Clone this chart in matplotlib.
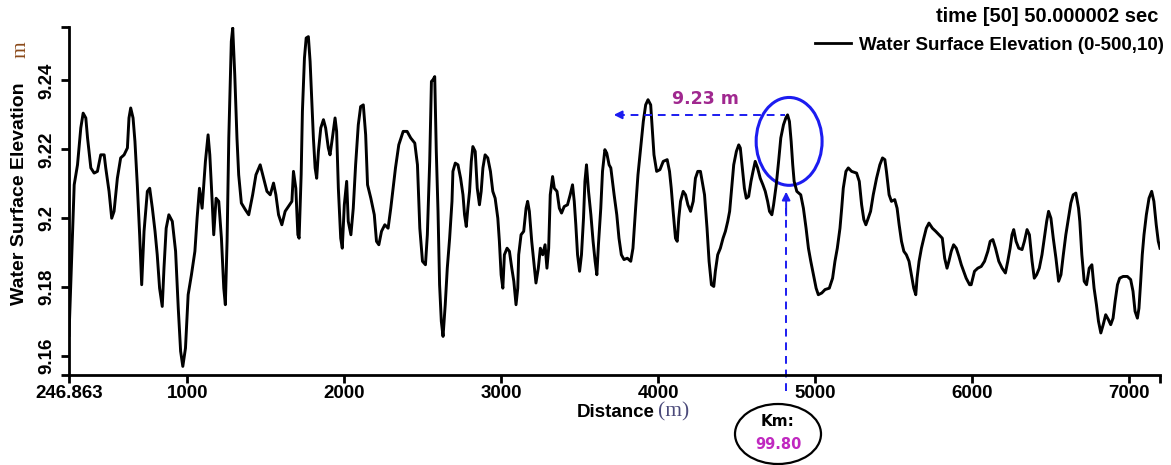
import matplotlib
matplotlib.use("Agg")
import matplotlib.pyplot as plt
from matplotlib.patches import Ellipse
from matplotlib.lines import Line2D

# distance along the reach (m) and water surface elevation (m)
distancia = [
    246.863, 280, 301, 322, 337, 354, 365, 386, 407, 428, 449, 471, 481, 502, 519, 534,
    555, 576, 598, 619, 629, 640, 655, 667, 682, 697, 710, 725, 746, 761, 778, 795,
    809, 824, 841, 852, 866, 883, 905, 926, 943, 958, 972, 989, 1006, 1027, 1049, 1063,
    1078, 1095, 1116, 1133, 1144, 1159, 1169, 1184, 1201, 1218, 1233, 1243, 1254, 1265,
    1281, 1290, 1303, 1317, 1328, 1345, 1370, 1392,
    1417, 1438, 1465, 1487, 1508, 1529, 1550, 1565, 1582, 1603, 1624, 1645, 1667, 1677,
    1692, 1705, 1713, 1726, 1734, 1747, 1758, 1772, 1783, 1794, 1804, 1815, 1825, 1836,
    1851, 1868, 1882, 1899, 1910, 1925, 1942, 1952, 1963, 1978, 1988, 2001, 2016, 2026,
    2043, 2058, 2073, 2090, 2105, 2122, 2137, 2149, 2170, 2192, 2206, 2221, 2238, 2259,
    2280, 2297, 2312, 2327, 2348, 2376, 2401, 2424, 2450, 2467, 2482, 2499, 2518, 2530,
    2545, 2556,
    2566, 2577, 2581, 2587, 2598, 2608, 2619, 2630, 2644, 2657, 2672, 2687, 2693, 2708,
    2725, 2742, 2757, 2767, 2778, 2788, 2799, 2810, 2820, 2835, 2848, 2862, 2873, 2884,
    2898, 2915, 2932, 2947, 2962, 2979, 2989, 3000, 3011, 3021, 3038, 3053, 3068, 3081,
    3095, 3106, 3112, 3127, 3144, 3159, 3169, 3180, 3195, 3208, 3222, 3237, 3250, 3265,
    3280, 3292, 3303, 3313, 3328, 3339, 3356, 3371, 3385, 3402, 3423, 3440, 3455, 3466,
    3476, 3487, 3500, 3512, 3525, 3534, 3544, 3557, 3572, 3586, 3599, 3610, 3620, 3635,
    3646, 3661, 3673, 3688, 3699,
    3720, 3737, 3751, 3766, 3783, 3804, 3826, 3840, 3857, 3872, 3889, 3906, 3921, 3936,
    3953, 3963, 3974, 3991, 4012, 4033, 4058, 4073, 4084, 4096, 4111, 4122, 4132, 4143,
    4160, 4175, 4190, 4207, 4224, 4238, 4253, 4270, 4281, 4296, 4312, 4325, 4340, 4355,
    4365, 4380, 4397, 4414, 4429, 4444, 4456, 4471, 4482, 4499, 4514, 4524, 4535, 4550,
    4562, 4577, 4592, 4605, 4619, 4634, 4651, 4668, 4683, 4698, 4710, 4725, 4736, 4753,
    4768, 4782, 4799, 4814, 4825,
    4837, 4848, 4858, 4867, 4884, 4909, 4926, 4943, 4958, 4973, 4990, 5007, 5021, 5043,
    5064, 5091, 5112, 5127, 5142, 5159, 5170, 5180, 5197, 5212, 5233, 5265, 5282, 5297,
    5311, 5324, 5339, 5354, 5371, 5392, 5413, 5430, 5445, 5455, 5472, 5487, 5508, 5523,
    5536, 5551, 5566, 5582, 5599, 5614, 5629, 5642, 5650, 5663, 5678, 5693, 5709, 5726,
    5748, 5769, 5790, 5811, 5826, 5841, 5853, 5868, 5883, 5900, 5917, 5932, 5947, 5963,
    5985,
    5995, 6016, 6037, 6059, 6080, 6101, 6116, 6133, 6150, 6171, 6192, 6213, 6228, 6243,
    6255, 6266, 6281, 6298, 6319, 6334, 6351, 6366, 6383, 6397, 6412, 6429, 6446, 6461,
    6476, 6488, 6503, 6518, 6535, 6552, 6567, 6582, 6598, 6615, 6630, 6645, 6662, 6679,
    6687, 6700, 6715, 6730, 6747, 6764, 6778, 6793, 6806, 6821, 6836, 6852, 6869, 6884,
    6899, 6912, 6927, 6941, 6963, 6990, 7011, 7026, 7039, 7054, 7064, 7075, 7085, 7096,
    7111, 7128, 7145, 7159, 7174, 7187, 7198,
]

elevacion = [
    9.1660, 9.2097, 9.2155, 9.2262, 9.2305, 9.2291, 9.2233, 9.2146, 9.2131, 9.2136, 9.2184, 9.2184, 9.2146, 9.2078, 9.2000, 9.2020,
    9.2116, 9.2175, 9.2184, 9.2204, 9.2291, 9.2320, 9.2291, 9.2223, 9.2097, 9.1952, 9.1807, 9.1962, 9.2078, 9.2087, 9.2029, 9.1962,
    9.1894, 9.1797, 9.1744, 9.1855, 9.1971, 9.2010, 9.1991, 9.1904, 9.1739, 9.1614, 9.1570, 9.1623, 9.1778, 9.1836, 9.1904, 9.2000,
    9.2087, 9.2029, 9.2165, 9.2242, 9.2184, 9.2049, 9.1952, 9.2058, 9.2049, 9.1942, 9.1797, 9.1749, 9.1933, 9.2233,
    9.2513, 9.2552, 9.2416, 9.2233, 9.2126, 9.2044, 9.2025, 9.2010,
    9.2068, 9.2126, 9.2155, 9.2116, 9.2078, 9.2068, 9.2102, 9.2068, 9.2010, 9.1981, 9.2020, 9.2034, 9.2049, 9.2136,
    9.2087, 9.1952, 9.1942, 9.2126, 9.2310, 9.2465, 9.2523, 9.2527, 9.2455, 9.2339, 9.2233, 9.2146, 9.2116, 9.2194,
    9.2262, 9.2286, 9.2262, 9.2204, 9.2184, 9.2233, 9.2291, 9.2252, 9.2087, 9.1942, 9.1913, 9.2039, 9.2107, 9.1991,
    9.1952, 9.2029, 9.2155, 9.2271, 9.2324, 9.2329, 9.2242, 9.2097, 9.2058, 9.2010, 9.1933, 9.1923, 9.1962, 9.1981,
    9.1971, 9.2029, 9.2087, 9.2146, 9.2213, 9.2252, 9.2252, 9.2233, 9.2218, 9.2155, 9.1971, 9.1875, 9.1865, 9.1952,
    9.2165, 9.2397,
    9.2402, 9.2411, 9.2329, 9.2194, 9.2020, 9.1807, 9.1701, 9.1657, 9.1749, 9.1855, 9.1942, 9.2049, 9.2136, 9.2160,
    9.2155, 9.2116, 9.2068, 9.2010, 9.1976, 9.2029, 9.2078, 9.2165, 9.2208, 9.2194, 9.2087, 9.2039, 9.2078, 9.2146,
    9.2184, 9.2175, 9.2136, 9.2078, 9.2058, 9.2000, 9.1933, 9.1836, 9.1797, 9.1894, 9.1913, 9.1904, 9.1855, 9.1817,
    9.1749, 9.1797, 9.1894, 9.1952, 9.1962, 9.2029, 9.2049, 9.2020, 9.1933, 9.1875, 9.1812, 9.1855, 9.1913, 9.1894,
    9.1923, 9.1855, 9.1913, 9.2068, 9.2121, 9.2087, 9.2078, 9.2029, 9.2015, 9.2034, 9.2039, 9.2068, 9.2097, 9.2049,
    9.1981, 9.1894, 9.1846, 9.1894, 9.2000, 9.2107, 9.2155, 9.2078, 9.2010, 9.1933, 9.1875, 9.1836, 9.1923, 9.2029,
    9.2136, 9.2199, 9.2189, 9.2155, 9.2146,
    9.2068, 9.2010, 9.1942, 9.1894, 9.1880, 9.1884, 9.1875, 9.1913, 9.2029, 9.2126, 9.2204, 9.2281, 9.2329, 9.2344,
    9.2329, 9.2262, 9.2184, 9.2136, 9.2141, 9.2165, 9.2170, 9.2136, 9.2087, 9.2020, 9.1942, 9.1933, 9.2000, 9.2049,
    9.2078, 9.2068, 9.2039, 9.2020, 9.2049, 9.2116, 9.2136, 9.2136, 9.2107, 9.2068, 9.1971, 9.1875, 9.1807, 9.1802,
    9.1846, 9.1894, 9.1913, 9.1942, 9.1962, 9.1991, 9.2020, 9.2097, 9.2155, 9.2194, 9.2213, 9.2204, 9.2155, 9.2087,
    9.2058, 9.2063, 9.2107, 9.2136, 9.2165, 9.2146, 9.2116, 9.2097, 9.2078, 9.2049, 9.2020, 9.2010, 9.2039, 9.2097,
    9.2165, 9.2233, 9.2271, 9.2291, 9.2300,
    9.2281, 9.2223, 9.2155, 9.2107, 9.2078, 9.2068, 9.2029, 9.1971, 9.1913, 9.1875, 9.1836, 9.1797, 9.1778, 9.1783,
    9.1793, 9.1797, 9.1826, 9.1875, 9.1913, 9.1971, 9.2029, 9.2087, 9.2136, 9.2146, 9.2136, 9.2131, 9.2107, 9.2039,
    9.1996, 9.1981, 9.2000, 9.2020, 9.2068, 9.2116, 9.2155, 9.2175, 9.2170, 9.2136, 9.2068, 9.2049, 9.2054, 9.2029,
    9.1981, 9.1933, 9.1904, 9.1894, 9.1875, 9.1836, 9.1797, 9.1778, 9.1826, 9.1875, 9.1913, 9.1942, 9.1971, 9.1986,
    9.1971, 9.1962, 9.1952, 9.1942, 9.1884, 9.1855, 9.1875, 9.1904, 9.1923, 9.1913, 9.1889, 9.1865, 9.1846, 9.1826,
    9.1807,
    9.1807, 9.1846, 9.1855, 9.1860, 9.1875, 9.1904, 9.1933, 9.1938, 9.1913, 9.1875, 9.1855, 9.1841, 9.1875, 9.1913,
    9.1952, 9.1967, 9.1933, 9.1913, 9.1909, 9.1933, 9.1967, 9.1952, 9.1875, 9.1826, 9.1836, 9.1855, 9.1894, 9.1942,
    9.1991, 9.2020, 9.2000, 9.1942, 9.1884, 9.1817, 9.1836, 9.1894, 9.1952, 9.2000, 9.2044, 9.2068, 9.2073, 9.2029,
    9.1991, 9.1894, 9.1817, 9.1807, 9.1855, 9.1865, 9.1797, 9.1749, 9.1701, 9.1667, 9.1691, 9.1720, 9.1706, 9.1691,
    9.1710, 9.1759, 9.1807, 9.1826, 9.1831, 9.1831, 9.1822, 9.1788, 9.1730, 9.1710, 9.1739, 9.1817, 9.1894, 9.1952,
    9.2010, 9.2058, 9.2078, 9.2049, 9.1981, 9.1933, 9.1913,
]

x_ticks = [246.863, 1000, 2000, 3000, 4000, 5000, 6000, 7000]
x_labels = ["246.863", "1000", "2000", "3000", "4000", "5000", "6000", "7000"]
y_ticks = [9.16, 9.18, 9.20, 9.22, 9.24]
y_labels = ["9.16", "9.18", "9.2", "9.22", "9.24"]
x_lim = (246.863, 7198)
y_lim = (9.1545, 9.2555)

# punto marcado
pico_x = 4825
pico_nivel = 9.23
flecha_x = 3700
km_texto = "99.80"

fuente = "Liberation Sans"
azul = "#1c1cf0"

fig = plt.figure(figsize=(11.71, 4.65), dpi=100)
ax = fig.add_axes([69 / 1171, 90 / 465, 1091 / 1171, 348 / 465])

linea, = ax.plot(distancia, elevacion, color="black", lw=2.1)

ax.set_xlim(*x_lim)
ax.set_ylim(*y_lim)
for lado in ["top", "right"]:
    ax.spines[lado].set_visible(False)
for lado in ["left", "bottom"]:
    ax.spines[lado].set_linewidth(2.0)

ax.set_xticks(x_ticks)
ax.set_xticklabels(x_labels, fontfamily=fuente, fontweight="bold", fontsize=13.5)
ax.set_yticks(y_ticks)
ax.set_yticklabels(y_labels, fontfamily=fuente, fontweight="bold", fontsize=13.5,
                   rotation=90, va="center")
ax.set_xticks([x_lim[1]], minor=True)
ax.set_yticks(list(y_lim), minor=True)
ax.tick_params(which="both", direction="out", length=6, width=2, color="black")
ax.tick_params(axis="x", pad=1)
ax.tick_params(axis="y", pad=4)

# etiquetas de ejes
fig.text(655 / 1171, 1 - 412 / 465, "Distance", ha="right", va="center",
         fontfamily=fuente, fontweight="bold", fontsize=13.5)
fig.text(658 / 1171, 1 - 412 / 465, "(m)", ha="left", va="center",
         fontfamily="Liberation Serif", fontsize=15.5, color="#4b4a7a")
fig.text(20 / 1171, 1 - 194 / 465, "Water Surface Elevation", rotation=90,
         ha="center", va="center", fontfamily=fuente, fontweight="bold", fontsize=14)
fig.text(21 / 1171, 1 - 50 / 465, "m", rotation=90, ha="center", va="center",
         fontfamily="Liberation Serif", fontsize=15.5, color="#8b4a1a")

# leyenda
fig.text(1158 / 1171, 1 - 17 / 465, "time [50] 50.000002 sec", ha="right", va="center",
         fontfamily=fuente, fontweight="bold", fontsize=14.5)
manejador = Line2D([], [], color="black", lw=2)
leg = ax.legend([manejador], ["Water Surface Elevation (0-500,10)"], loc="center right",
                bbox_to_anchor=(1164 / 1171, 1 - 45 / 465), bbox_transform=fig.transFigure,
                frameon=False, borderpad=0.0, borderaxespad=0,
                handlelength=1.9, handletextpad=0.45,
                prop={"family": fuente, "weight": "bold", "size": 13.5})

# flecha horizontal 9.23 m
ax.plot([flecha_x + 40, pico_x - 15], [pico_nivel, pico_nivel], color=azul,
        lw=1.4, dashes=(4, 3))
ax.annotate("", xy=(flecha_x, pico_nivel), xytext=(flecha_x + 70, pico_nivel),
            arrowprops=dict(arrowstyle="-|>", color=azul, lw=1.4, mutation_scale=12))
ax.text(4300, pico_nivel + 0.0045, "9.23 m", ha="center", va="center",
        fontfamily="DejaVu Sans", fontweight="bold", fontsize=12.5, color="#a0288f")

# elipse azul alrededor del pico
ax.add_patch(Ellipse((4835, 9.2223), 420, 0.0255, fill=False, edgecolor=azul, lw=2.2))

# flecha vertical hacia el pico
ax.plot([4816, 4816], [9.1500, 9.2030], color=azul, lw=1.4, dashes=(4, 3), clip_on=False)
ax.annotate("", xy=(4816, 9.2085), xytext=(4816, 9.2000),
            arrowprops=dict(arrowstyle="-|>", color=azul, lw=1.4, mutation_scale=12))

# elipse con el kilometraje
fig.patches.append(Ellipse((778 / 1171, 1 - 434 / 465), 86 / 1171, 60 / 465,
                           transform=fig.transFigure, fill=False, edgecolor="black", lw=1.6))
fig.text(778 / 1171, 1 - 422 / 465, "Km:", ha="center", va="center",
         fontfamily="DejaVu Sans", fontweight="bold", fontsize=11, color="black")
fig.text(778 / 1171, 1 - 444 / 465, km_texto, ha="center", va="center",
         fontfamily="DejaVu Sans", fontweight="bold", fontsize=10.5, color="#c028c0")

fig.savefig("out.png", dpi=100)
